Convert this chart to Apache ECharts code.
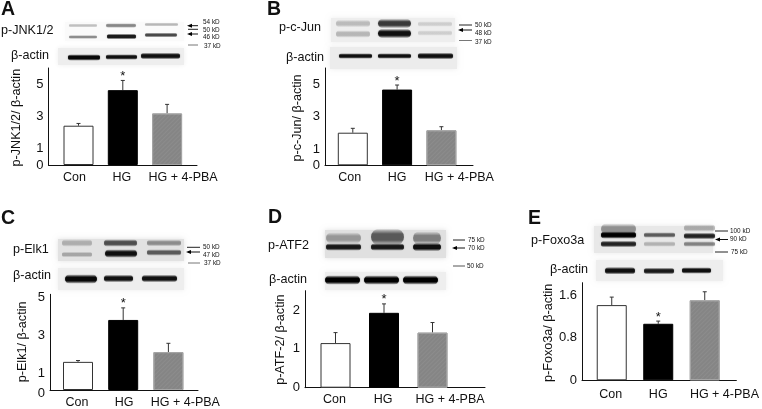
<!DOCTYPE html>
<html>
<head>
<meta charset="utf-8">
<title>Western blot panels</title>
<script src="https://cdn.jsdelivr.net/npm/echarts@6/dist/echarts.min.js"></script>
<style>
html, body { margin: 0; padding: 0; background: #fff; }
#main { width: 762px; height: 409px; }
</style>
</head>
<body>
<div id="main"></div>
<script>
var categories = ["Con", "HG", "HG + 4-PBA"];

var panelNames = ["A", "B", "C", "D", "E"];
var yTitles = ["p-JNK1/2/ β-actin", "p-c-Jun/ β-actin", "p-Elk1/ β-actin", "p-ATF-2/ β-actin", "p-Foxo3a/ β-actin"];
var yTicks = [[0, 1, 3, 5], [0, 1, 3, 5], [0, 1, 3, 5], [0, 1, 2], [0, 0.8, 1.6]];
var yMax = [6, 6, 5, 2.5, 1.83];

var meanA = [2.43, 4.63, 3.19];
var meanB = [2.01, 4.67, 2.16];
var meanC = [1.47, 3.66, 1.98];
var meanD = [1.15, 1.93, 1.42];
var meanE = [1.41, 1.06, 1.5];
var means = [meanA, meanB, meanC, meanD, meanE];

// top of each error bar
var errTopA = [2.57, 5.23, 3.75];
var errTopB = [2.28, 4.95, 2.38];
var errTopC = [1.54, 4.29, 2.44];
var errTopD = [1.42, 2.16, 1.68];
var errTopE = [1.56, 1.11, 1.66];
var errTops = [errTopA, errTopB, errTopC, errTopD, errTopE];

// plot box, first bar centre, bar spacing, x label shifts and margin, y label shift, y title gap and shift
var layouts = [
    {l: 48.5, r: 197, t: 68, b: 165, c0: 78.5, step: 44.3, shift: [-4, -1, 16], xGap: 6, yShift: 0, gap: 25, down: 4.5},
    {l: 325, r: 473, t: 68, b: 165.3, c0: 352.8, step: 44.3, shift: [-3, 0, 18], xGap: 6, yShift: 0, gap: 20.7, down: 5},
    {l: 50, r: 198, t: 294.3, b: 392, c0: 78, step: 45.2, shift: [-1, 1, 17], xGap: 6, yShift: 3, gap: 20.7, down: -1},
    {l: 305, r: 485, t: 290.7, b: 387.7, c0: 335.5, step: 48.5, shift: [-1, -1, 17.5], xGap: 5, yShift: 0, gap: 18, down: 2},
    {l: 582, r: 738.7, t: 282.7, b: 380.3, c0: 612.2, step: 47.2, shift: [-1, 0, 20], xGap: 8, yShift: 0, gap: 21.7, down: 5.5}
];

var FONT = '"Liberation Sans", Arial, sans-serif';
var barStyles = [
    {color: "#ffffff", borderColor: "#333333", borderWidth: 1},
    {color: "#000000", borderColor: "#000000", borderWidth: 1},
    {
        color: "#858585", borderColor: "#a4a4a4", borderWidth: 1,
        decal: {symbol: "rect", dashArrayX: [1, 0], dashArrayY: [1, 2], rotation: -0.78, color: "rgba(255,255,255,0.06)"}
    }
];

function txt(str, x, y, size, weight) {
    return {
        type: "text", x: x, y: y, silent: true,
        style: {text: str, fill: "#111", font: (weight || "normal") + " " + size + "px " + FONT, textVerticalAlign: "middle"}
    };
}

function box(x0, y0, x1, y1, c) {
    return {
        type: "rect", silent: true,
        shape: {x: x0 + 2, y: y0 + 2, width: x1 - x0 - 4, height: y1 - y0 - 4},
        style: {fill: c, shadowBlur: 5, shadowColor: c}
    };
}

function band(x0, x1, y, h, a) {
    var c = "rgba(0,0,0," + a + ")";
    var clear = "rgba(0,0,0,0)";
    var full = h * 1.9;
    return {
        type: "rect", silent: true,
        shape: {x: x0, y: y - full / 2, width: x1 - x0, height: full, r: full / 2},
        style: {
            fill: {
                type: "linear", x: 0, y: 0, x2: 0, y2: 1,
                colorStops: [{offset: 0, color: clear}, {offset: 0.32, color: c}, {offset: 0.68, color: c}, {offset: 1, color: clear}]
            },
            shadowBlur: 2, shadowColor: "rgba(0,0,0," + a * 0.4 + ")"
        }
    };
}

function rule(x0, x1, y, c) {
    return {type: "line", silent: true, shape: {x1: x0, y1: y, x2: x1, y2: y}, style: {stroke: c || "#222", lineWidth: 1}};
}

function arrow(x0, x1, y) {
    return [
        rule(x0 + 2, x1, y, "#111"),
        {type: "polygon", silent: true, shape: {points: [[x0, y], [x0 + 5, y - 2], [x0 + 5, y + 2]]}, style: {fill: "#000"}}
    ];
}

// blots, panel labels and size markers
var decor = [].concat(
    // A
    [box(63, 20, 186, 43, "#fafafa"), box(56, 46, 186, 67, "#eeeeee"),
     band(69, 97, 25.5, 2, .22), band(106, 136, 25.5, 2.5, .42), band(145, 178, 24.5, 2, .25),
     band(69, 97, 37, 2, .4), band(107, 136, 36.5, 3, .85), band(145, 177, 35, 2.5, .65),
     band(68, 100, 57.5, 3.5, .95), band(106, 137, 57, 3, .9), band(141, 180, 56, 3.5, .9)],
    [txt("A", 1, 10, 19.5, "bold"), txt("p-JNK1/2", 1, 31, 12.6), txt("β-actin", 11, 56, 12.6)],
    arrow(187, 198, 25.7), [rule(188, 198, 29.3)], arrow(187, 198, 34), [rule(188, 198, 45, "#777")],
    [txt("54 kD", 203, 22, 6.4), txt("50 kD", 203, 30, 6.4), txt("46 kD", 203, 37.5, 6.4), txt("37 kD", 204, 46.5, 6.4)],
    // B
    [box(329, 16, 457, 44, "#eeeeee"), box(328, 45, 459, 71, "#ececec"),
     band(336, 370, 23.5, 4, .2), band(336, 370, 34, 4, .22),
     band(378, 411, 23.5, 5, .7), band(378, 411, 33.5, 5, .9),
     band(418, 452, 24, 3, .13), band(418, 452, 33, 3, .13),
     band(339, 372, 56, 3, .9), band(378, 411, 56, 3, .9), band(418, 453, 56, 3.5, .9)],
    [txt("B", 267, 10, 19.5, "bold"), txt("p-c-Jun", 279, 28, 12.6), txt("β-actin", 286, 58, 12.6)],
    [rule(459, 472, 25)], arrow(458, 472, 30), [rule(459, 472, 40.5, "#777")],
    [txt("50 kD", 475, 25.7, 6.4), txt("48 kD", 475, 33.3, 6.4), txt("37 kD", 475, 42.3, 6.4)],
    // C
    [box(56, 237, 186, 263, "#e2e2e2"), box(56, 266, 186, 292, "#eeeeee"),
     band(62, 92, 243, 4, .22), band(104, 137, 243, 4, .6), band(147, 181, 243, 3.5, .35),
     band(62, 92, 254.5, 3, .25), band(105, 137, 253.5, 4.5, .9), band(147, 181, 252.5, 3.5, .55),
     band(65, 97, 279, 5, .95), band(104, 133, 278.5, 4, .9), band(142, 177, 278.5, 4, .9)],
    [txt("C", 1, 219, 19.5, "bold"), txt("p-Elk1", 13, 250, 12.6), txt("β-actin", 13, 276, 12.6)],
    [rule(187, 200, 247.3)], arrow(186, 200, 252), [rule(188, 200, 263, "#777")],
    [txt("50 kD", 203, 247.7, 6.4), txt("47 kD", 203, 255, 6.4), txt("37 kD", 204, 263.7, 6.4)],
    // D
    [box(323, 228, 448, 260, "#e0e0e0"), box(323, 270, 448, 292, "#eeeeee"),
     band(326, 361, 238, 6, .3), band(326, 361, 247, 4, .85),
     band(371, 404, 237, 9, .55), band(371, 404, 247, 4, .85),
     band(413, 441, 238, 7, .4), band(413, 441, 247, 4.5, .9),
     band(325, 360, 280, 5, 1), band(364, 399, 280, 5, 1), band(403, 438, 280, 5, 1)],
    [txt("D", 268, 218, 19.5, "bold"), txt("p-ATF2", 268, 245.7, 12.6), txt("β-actin", 269, 279.7, 12.6)],
    [rule(453, 465, 240)], arrow(452, 465, 248), [rule(453, 465, 266, "#555")],
    [txt("75 kD", 468, 240.7, 6.4), txt("70 kD", 468, 248.7, 6.4), txt("50 kD", 467, 266.7, 6.4)],
    // E
    [box(592, 224, 715, 255, "#e8e8e8"), box(594, 258, 725, 283, "#eeeeee"),
     band(601, 636, 229, 6, .35), band(601, 636, 235, 4, 1), band(601, 636, 244, 3.5, .8),
     band(644, 675, 235, 3, .55), band(644, 675, 244, 3, .22),
     band(684, 715, 228, 4, .25), band(684, 715, 236, 3.5, .8), band(684, 715, 244, 3, .4),
     band(605, 635, 270.7, 4, .9), band(644, 674, 271, 3.5, .85), band(682, 711, 270.5, 3.5, .9)],
    [txt("E", 528, 219, 19.5, "bold"), txt("p-Foxo3a", 531, 241, 12.6), txt("β-actin", 550, 270, 12.6)],
    [rule(715, 728, 231)], arrow(715, 728, 239.5), [rule(715, 728, 252)],
    [txt("100 kD", 730, 231, 6.4), txt("90 kD", 730, 239, 6.4), txt("75 kD", 731, 252, 6.4)]
);

var grids = [], xAxes = [], yAxes = [], seriesList = [];

panelNames.forEach(function (name, p) {
    var lay = layouts[p];
    grids.push({left: lay.l, top: lay.t, width: lay.r - lay.l, height: lay.b - lay.t});
    xAxes.push({
        type: "value", gridIndex: p,
        min: (lay.l - lay.c0) / lay.step,
        max: (lay.r - lay.c0) / lay.step,
        splitLine: {show: false},
        axisTick: {show: false},
        axisLine: {show: true, onZero: false, lineStyle: {color: "#111", width: 1}},
        axisLabel: {
            customValues: lay.shift.map(function (s, i) { return i + s / lay.step; }),
            // the index is not passed with customValues, so go back from the value
            formatter: function (v) { return categories[Math.round(v)]; },
            color: "#111", fontFamily: FONT, fontSize: 12.5, margin: lay.xGap
        }
    });
    var yLabel = {
        customValues: yTicks[p],
        color: "#111", fontFamily: FONT, fontSize: 13, margin: 5
    };
    // panel C has its numbers sitting a little under the tick position
    if (lay.yShift) {
        yLabel.verticalAlign = "top";
        yLabel.lineHeight = lay.yShift * 2;
    }
    yAxes.push({
        type: "value", gridIndex: p, min: 0, max: yMax[p],
        name: yTitles[p], nameLocation: "middle", nameRotate: 90, nameGap: lay.gap,
        nameTextStyle: {
            color: "#111", fontFamily: FONT, fontSize: 12.6,
            padding: lay.down > 0 ? [0, lay.down / 2, 0, 0] : [0, 0, 0, -lay.down / 2]
        },
        splitLine: {show: false},
        axisTick: {show: false},
        axisLine: {show: true, onZero: false, lineStyle: {color: "#111", width: 1}},
        axisLabel: yLabel
    });
    seriesList.push({
        type: "bar", xAxisIndex: p, yAxisIndex: p, barWidth: 30, silent: true, animation: false,
        data: means[p].map(function (v, i) {
            return {value: [i, v], itemStyle: barStyles[i]};
        })
    });
    seriesList.push({
        type: "custom", xAxisIndex: p, yAxisIndex: p, silent: true, animation: false,
        data: means[p].map(function (v, i) { return [i, v, errTops[p][i], i === 1 ? 1 : 0]; }),
        encode: {x: 0, y: [1, 2]},
        renderItem: function (params, api) {
            var low = api.coord([api.value(0), api.value(1)]);
            var high = api.coord([api.value(0), api.value(2)]);
            var kids = [
                {type: "line", shape: {x1: low[0], y1: low[1], x2: high[0], y2: high[1]}, style: {stroke: "#333", lineWidth: 1}},
                {type: "line", shape: {x1: high[0] - 2, y1: high[1], x2: high[0] + 2, y2: high[1]}, style: {stroke: "#333", lineWidth: 1}}
            ];
            if (api.value(3)) {
                kids.push({
                    type: "text", x: high[0], y: high[1] - 4,
                    style: {text: "*", fill: "#111", font: "13px " + FONT, textAlign: "center", textVerticalAlign: "middle"}
                });
            }
            return {type: "group", children: kids};
        }
    });
});

var myChart = echarts.init(document.getElementById("main"), null, {renderer: "canvas"});
myChart.setOption({
    backgroundColor: "#ffffff",
    animation: false,
    grid: grids,
    xAxis: xAxes,
    yAxis: yAxes,
    series: seriesList,
    graphic: {elements: decor}
});
</script>
</body>
</html>
